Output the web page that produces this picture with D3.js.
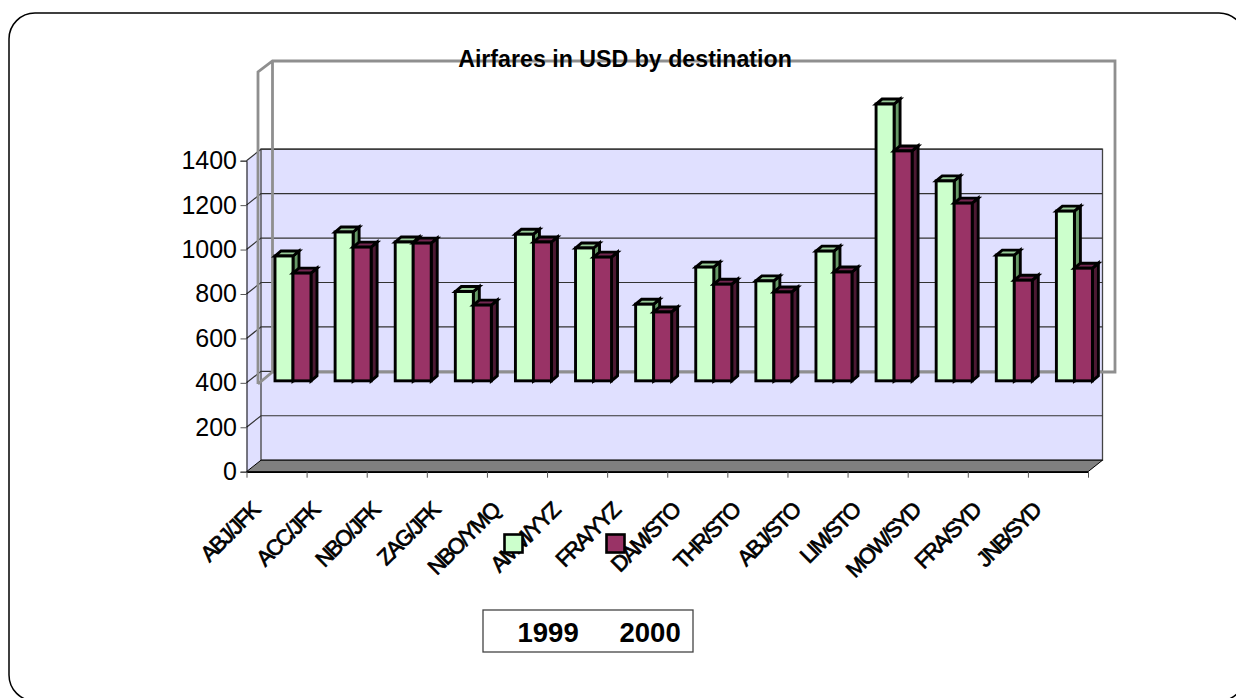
<!DOCTYPE html>
<html>
<head>
<meta charset="utf-8">
<script src="https://cdn.jsdelivr.net/npm/d3@7"></script>
<style>
  html, body { margin: 0; padding: 0; background: #fff; overflow: hidden; }
  text { font-family: "Liberation Sans", Arial, sans-serif; fill: #000; }
</style>
</head>
<body>
<script>
  const categories = ['ABJ/JFK', 'ACC/JFK', 'NBO/JFK', 'ZAG/JFK', 'NBO/YMQ', 'AMM/YYZ', 'FRA/YYZ',
    'DAM/STO', 'THR/STO', 'ABJ/STO', 'LIM/STO', 'MOW/SYD', 'FRA/SYD', 'JNB/SYD'];
  const fares1999 = [962, 1070, 1025, 802, 1060, 998, 745, 912, 850, 984, 1646, 1300, 966, 1164];
  const fares2000 = [885, 1002, 1020, 741, 1025, 957, 710, 835, 800, 890, 1435, 1200, 853, 907];
  const yTicks = [0, 200, 400, 600, 800, 1000, 1200, 1400];
  const barBase = 400;
  const seriesNames = ['1999', '2000'];

  const width = 1236;
  const height = 698;

  const svg = d3
    .select('body')
    .append('svg')
    .attr('width', width)
    .attr('height', height)
    .style('display', 'block');

  // page border, runs off the right and bottom of the window
  svg.append('rect')
    .attr('x', 9).attr('y', 13)
    .attr('width', 1236).attr('height', 688)
    .attr('rx', 26).attr('ry', 26)
    .attr('fill', '#fff')
    .attr('stroke', '#000')
    .attr('stroke-width', 1.5);

  const x0 = 246.5;
  const x1 = 1088;
  const wallDx = 14.5;
  const wallDy = -11.5;

  const y = d3.scaleLinear().domain([0, 1400]).range([471.7, 160.7]);
  const xTick = d3.scaleLinear().domain([0, categories.length]).range([x0, x1]);
  const xBand = d3.scaleBand().domain(categories).range([x0, x1]);

  // walls and floor
  svg.append('polygon')
    .attr('points', [[x0, y(1400)], [x0 + wallDx, y(1400) + wallDy], [x0 + wallDx, y(0) + wallDy], [x0, y(0)]].join(' '))
    .attr('fill', '#e0e0ff')
    .attr('stroke', 'none');
  svg.append('rect')
    .attr('x', x0 + wallDx).attr('y', y(1400) + wallDy)
    .attr('width', x1 - x0).attr('height', y(0) - y(1400))
    .attr('fill', '#e0e0ff')
    .attr('stroke', '#444')
    .attr('stroke-width', 1.3);

  const grid = svg.append('g').attr('class', 'grid');
  grid.selectAll('path')
    .data(yTicks.filter((d) => d > 0))
    .enter()
    .append('path')
    .attr('d', (d) => `M${x0},${y(d)}L${x0 + wallDx},${y(d) + wallDy}H${x1 + wallDx}`)
    .attr('fill', 'none')
    .attr('stroke', '#333')
    .attr('stroke-width', 1.2);

  svg.append('polygon')
    .attr('points', [[x0, y(0)], [x0 + wallDx, y(0) + wallDy], [x1 + wallDx, y(0) + wallDy], [x1, y(0)]].join(' '))
    .attr('fill', '#808080')
    .attr('stroke', '#000')
    .attr('stroke-width', 1);

  // grey outline box behind the bars
  svg.append('path')
    .attr('d', 'M258,384V72L272.5,61H1115V372H272.5L258,384M272.5,61V372')
    .attr('fill', 'none')
    .attr('stroke', '#8f8f8f')
    .attr('stroke-width', 2.8);

  const barW = 18;
  const barDx = 6;
  const barDy = -5;
  const barLift = -2;
  const barInset = 28.5;

  const seriesStyle = [
    { front: '#ccffcc', top: '#99cc99', side: '#669966' },
    { front: '#993366', top: '#732650', side: '#4c1933' },
  ];

  function drawBars(values, idx) {
    const st = seriesStyle[idx];
    const g = svg.append('g').attr('class', `series${seriesNames[idx]}`);
    const bar = g.selectAll('g')
      .data(values.map((v, i) => ({ v, cat: categories[i] })))
      .enter()
      .append('g')
      .attr('stroke', '#000')
      .attr('stroke-width', 2.9)
      .attr('stroke-linejoin', 'miter');
    const left = (d) => xBand(d.cat) + barInset + idx * barW;
    const top = (d) => y(d.v) + barLift;
    const bottom = y(barBase) + barLift;

    bar.append('polygon')
      .attr('fill', st.side)
      .attr('points', (d) => {
        const r = left(d) + barW;
        return [[r, top(d)], [r + barDx, top(d) + barDy], [r + barDx, bottom + barDy], [r, bottom]].join(' ');
      });
    bar.append('polygon')
      .attr('fill', st.top)
      .attr('points', (d) => {
        const l = left(d);
        return [[l, top(d)], [l + barDx, top(d) + barDy], [l + barW + barDx, top(d) + barDy], [l + barW, top(d)]].join(' ');
      });
    bar.append('rect')
      .attr('fill', st.front)
      .attr('x', left)
      .attr('y', top)
      .attr('width', barW)
      .attr('height', (d) => bottom - top(d));
  }
  drawBars(fares1999, 0);
  drawBars(fares2000, 1);

  // y axis
  const yAxis = svg.append('g')
    .attr('transform', `translate(${x0},0)`)
    .call(d3.axisLeft(y).tickValues(yTicks).tickSize(6).tickPadding(3.5).tickFormat(d3.format('d')));
  yAxis.select('.domain').attr('stroke', '#000').attr('stroke-width', 1);
  yAxis.selectAll('.tick line').attr('stroke', '#555');
  yAxis.selectAll('.tick text')
    .attr('font-family', '"Liberation Sans", Arial, sans-serif')
    .style('font-size', '25px');

  // x axis, ticks sit on the band edges
  const xAxis = svg.append('g')
    .attr('transform', `translate(0,${y(0)})`)
    .call(d3.axisBottom(xTick).tickValues(d3.range(categories.length + 1)).tickSize(6).tickSizeOuter(0).tickFormat(''));
  xAxis.select('.domain').attr('stroke', '#000').attr('stroke-width', 1.5);
  xAxis.selectAll('.tick line').attr('stroke', '#555');

  svg.append('g')
    .selectAll('text')
    .data(categories)
    .enter()
    .append('text')
    .text((d) => d)
    .attr('text-anchor', 'end')
    .attr('transform', (d, i) => `translate(${xTick(i) + 14},${512}) rotate(-45)`)
    .style('font-size', '22px')
    .style('letter-spacing', '-1.9px')
    .style('stroke', '#000')
    .style('stroke-width', 0.7);

  svg.append('text')
    .text('Airfares in USD by destination')
    .attr('x', 625)
    .attr('y', 66.5)
    .attr('text-anchor', 'middle')
    .style('font-size', '23.2px')
    .style('font-weight', 'bold');

  // legend
  svg.append('rect')
    .attr('x', 483).attr('y', 610)
    .attr('width', 210).attr('height', 42)
    .attr('fill', '#fff')
    .attr('stroke', '#444')
    .attr('stroke-width', 1.3);

  const legendX = d3.scalePoint().domain(seriesNames).range([0, 102]);
  const legend = svg.append('g').selectAll('g')
    .data(seriesNames)
    .enter()
    .append('g')
    .attr('transform', (d) => `translate(${legendX(d)},0)`);
  legend.append('rect')
    .attr('x', 504.5).attr('y', 534.5)
    .attr('width', 18).attr('height', 18)
    .attr('fill', (d, i) => seriesStyle[i].front)
    .attr('stroke', '#000')
    .attr('stroke-width', 2.6);
  legend.append('text')
    .text((d) => d)
    .attr('x', 517.5)
    .attr('y', 642)
    .style('font-size', '27.5px')
    .style('font-weight', 'bold');
</script>
</body>
</html>
